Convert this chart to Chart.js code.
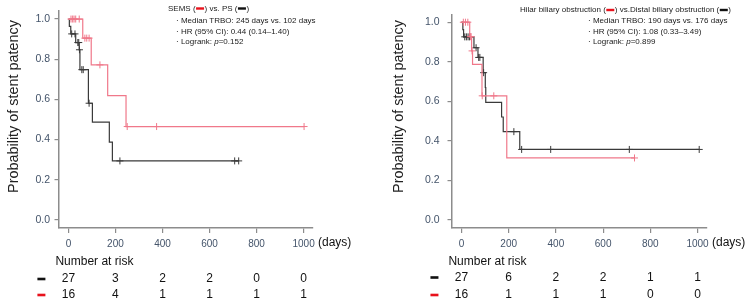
<!DOCTYPE html>
<html><head><meta charset="utf-8">
<script src="https://cdn.jsdelivr.net/npm/chart.js@4"></script>
<style>
html,body{margin:0;padding:0;background:#fff;}
#wrap{position:relative;width:751px;height:307px;overflow:hidden;background:#fff;}
canvas{position:absolute;top:0;}
</style></head><body>
<div id="wrap">
<canvas id="c1" width="380" height="307" style="left:0px"></canvas>
<canvas id="c2" width="371" height="307" style="left:380px"></canvas>
</div>
<script>
// ---------- shared ticks ----------
const xTicks = [0, 200, 400, 600, 800, 1000];
const yTicks = [0, 0.2, 0.4, 0.6, 0.8, 1.0];
const yTickLabels = ['0.0', '0.2', '0.4', '0.6', '0.8', '1.0'];

// ---------- left panel: SEMS (red) vs PS (black) ----------
const semsTime = [0, 61, 97, 167, 245, 1002];
const semsSurv = [1.0, 0.905, 0.772, 0.619, 0.465, 0.465];
const semsCensorTime = [11, 18, 24, 31, 46, 70, 78, 88, 134, 250, 375, 1002];
const semsCensorSurv = [1, 1, 1, 1, 1, 0.905, 0.905, 0.905, 0.772, 0.465, 0.465, 0.465];

const psTime = [0, 4, 10, 31, 46, 49, 85, 102, 174, 187, 724];
const psSurv = [1.0, 0.963, 0.926, 0.883, 0.847, 0.748, 0.581, 0.487, 0.387, 0.294, 0.294];
const psCensorTime = [14, 28, 40, 44, 47, 57, 63, 88, 219, 707, 724];
const psCensorSurv = [0.926, 0.926, 0.883, 0.883, 0.847, 0.748, 0.748, 0.581, 0.294, 0.294, 0.294];

const psRisk = [27, 3, 2, 2, 0, 0];
const semsRisk = [16, 4, 1, 1, 1, 1];

// ---------- right panel: Hilar (red) vs Distal (black) ----------
const hilarTime = [0, 35, 43, 47, 87, 192, 733];
const hilarSurv = [1.0, 0.927, 0.855, 0.787, 0.628, 0.314, 0.314];
const hilarCensorTime = [8, 17, 27, 38, 41, 45, 88, 137, 733];
const hilarCensorSurv = [1, 1, 1, 0.927, 0.927, 0.855, 0.628, 0.628, 0.314];

const distalTime = [0, 6, 9, 53, 70, 92, 101, 103, 170, 177, 247, 1007];
const distalSurv = [1.0, 0.963, 0.926, 0.871, 0.822, 0.745, 0.67, 0.595, 0.521, 0.447, 0.357, 0.357];
const distalCensorTime = [14, 21, 28, 34, 62, 73, 78, 94, 222, 255, 378, 711, 1007];
const distalCensorSurv = [0.926, 0.926, 0.926, 0.926, 0.871, 0.822, 0.822, 0.745, 0.447, 0.357, 0.357, 0.357, 0.357];

const distalRisk = [27, 6, 2, 2, 1, 1];
const hilarRisk = [16, 1, 1, 1, 0, 0];

// ---------- styles ----------
const RED_LINE = '#f0788a';
const BLACK_LINE = '#3a3a3a';
const RED_KEY = '#e8121c';
const BLACK_KEY = '#111111';
const AXIS = '#8c8c8c';
const TICKTXT = '#44546a';
const SANS = '"Liberation Sans", Arial, sans-serif';
const NARROW = '"Liberation Sans Narrow", "Arial Narrow", "Liberation Sans", Arial, sans-serif';

function pts(t, s) { return t.map((v, i) => ({ x: v, y: s[i] })); }

function stepDs(t, s, color) {
  return { type: 'line', data: pts(t, s), borderColor: color, borderWidth: 1.2,
    stepped: 'before', pointRadius: 0, fill: false, tension: 0 };
}
function censorDs(t, s, color) {
  return { type: 'line', data: pts(t, s), showLine: false, pointStyle: 'cross',
    pointRadius: 3.5, pointBorderWidth: 1, pointBorderColor: color,
    pointBackgroundColor: color, borderColor: color };
}

function drawParts(ctx, x, y, parts) {
  let cx = x;
  ctx.textBaseline = 'middle';
  ctx.textAlign = 'left';
  for (const p of parts) {
    if (p.dash) {
      ctx.fillStyle = p.dash;
      ctx.fillRect(cx + 0.5, y - 1.2, 8, 2.4);
      cx += 9;
      continue;
    }
    ctx.font = (p.i ? 'italic ' : '') + '8px ' + SANS;
    ctx.fillStyle = '#1a1a1a';
    ctx.fillText(p.t, cx, y);
    cx += ctx.measureText(p.t).width;
  }
}

function annPlugin(cfg) {
  return {
    id: 'ann_' + cfg.id,
    afterDraw(chart) {
      const ctx = chart.ctx, xs = chart.scales.x, ca = chart.chartArea;
      ctx.save();
      // y axis title
      ctx.save();
      ctx.translate(cfg.yTitleX, cfg.yTitleY);
      ctx.rotate(-Math.PI / 2);
      ctx.font = '14.4px ' + SANS;
      ctx.fillStyle = '#222';
      ctx.textAlign = 'center';
      ctx.textBaseline = 'middle';
      ctx.fillText('Probability of stent patency', 0, 0);
      ctx.restore();
      // (days)
      ctx.font = '12px ' + SANS;
      ctx.fillStyle = '#111';
      ctx.textAlign = 'left';
      ctx.textBaseline = 'middle';
      ctx.fillText('(days)', ca.right + 5, 243);
      // legend block
      drawParts(ctx, cfg.legX, cfg.legY, cfg.legTitle);
      cfg.legLines.forEach((ln, i) => {
        drawParts(ctx, cfg.bulX, cfg.bulY[i], [{ t: '· ' }].concat(ln));
      });
      // number at risk table
      const x0 = xs.getPixelForValue(0);
      ctx.font = '12px ' + SANS;
      ctx.fillStyle = '#111';
      ctx.textAlign = 'left';
      ctx.textBaseline = 'middle';
      ctx.fillText('Number at risk', x0 - 13, 261.5);
      const rows = [{ v: cfg.riskBlack, c: BLACK_KEY, y: cfg.rowY[0] },
                    { v: cfg.riskRed, c: RED_KEY, y: cfg.rowY[1] }];
      rows.forEach(r => {
        ctx.fillStyle = r.c;
        ctx.fillRect(x0 - 31, r.y - 1.3, 8, 2.6);
        ctx.fillStyle = '#111';
        ctx.font = '12px ' + NARROW;
        ctx.textAlign = 'center';
        r.v.forEach((n, i) => ctx.fillText(String(n), xs.getPixelForValue(xTicks[i]), r.y));
      });
      ctx.restore();
    }
  };
}

function makeChart(id, datasets, yWidth, pad, tickPad, cfg) {
  return new Chart(document.getElementById(id), {
    type: 'line',
    data: { datasets },
    options: {
      responsive: false, animation: false, devicePixelRatio: 1,
      layout: { padding: pad },
      plugins: { legend: { display: false }, tooltip: { enabled: false }, title: { display: false } },
      scales: {
        x: {
          type: 'linear', min: -40, max: 1040,
          afterBuildTicks: s => { s.ticks = xTicks.map(v => ({ value: v })); },
          afterFit: s => { s.height = 20; },
          grid: { drawOnChartArea: false, drawTicks: true, tickLength: 5, color: AXIS, lineWidth: 1.2 },
          border: { display: true, color: AXIS, width: 1.5 },
          ticks: { padding: 5, color: TICKTXT, font: { family: NARROW, size: 10 }, maxRotation: 0,
                   autoSkip: false, callback: v => String(v) }
        },
        y: {
          type: 'linear', min: -0.04, max: 1.04,
          afterBuildTicks: s => { s.ticks = yTicks.map(v => ({ value: v })); },
          afterFit: s => { s.width = yWidth; },
          grid: { drawOnChartArea: false, drawTicks: true, tickLength: 4.5, color: AXIS, lineWidth: 1.2 },
          border: { display: true, color: AXIS, width: 1.5 },
          ticks: { padding: tickPad, color: TICKTXT, font: { family: SANS, size: 10.5 }, autoSkip: false,
                   callback: (v, i) => yTickLabels[i] }
        }
      }
    },
    plugins: [annPlugin(cfg)]
  });
}

// left chart
makeChart('c1', [
  stepDs(semsTime, semsSurv, RED_LINE),
  censorDs(semsCensorTime, semsCensorSurv, RED_LINE),
  stepDs(psTime, psSurv, BLACK_LINE),
  censorDs(psCensorTime, psCensorSurv, BLACK_LINE)
], 59, { left: 0, top: 11, right: 67, bottom: 59 }, 4.5, {
  id: 'L', yTitleX: 14, yTitleY: 106.5,
  legX: 168, legY: 8.5,
  legTitle: [{ t: 'SEMS (' }, { dash: RED_KEY }, { t: ') vs. PS (' }, { dash: BLACK_KEY }, { t: ')' }],
  bulX: 176, bulY: [21, 31.5, 42],
  legLines: [[{ t: 'Median TRBO: 245 days vs. 102 days' }],
             [{ t: 'HR (95% CI): 0.44 (0.14\u20131.40)' }],
             [{ t: 'Logrank: ' }, { t: 'p', i: true }, { t: '=0.152' }]],
  riskBlack: psRisk, riskRed: semsRisk, rowY: [279, 295]
});

// right chart
makeChart('c2', [
  stepDs(hilarTime, hilarSurv, RED_LINE),
  censorDs(hilarCensorTime, hilarCensorSurv, RED_LINE),
  stepDs(distalTime, distalSurv, BLACK_LINE),
  censorDs(distalCensorTime, distalCensorSurv, BLACK_LINE)
], 72, { left: 0, top: 9, right: 44, bottom: 59 }, 8, {
  id: 'R', yTitleX: 19, yTitleY: 106.5,
  legX: 140, legY: 10,
  legTitle: [{ t: 'Hilar biliary obstruction (' }, { dash: RED_KEY }, { t: ') vs.Distal biliary obstruction (' }, { dash: BLACK_KEY }, { t: ')' }],
  bulX: 208, bulY: [21, 31.5, 42],
  legLines: [[{ t: 'Median TRBO: 190 days vs. 176 days' }],
             [{ t: 'HR (95% CI): 1.08 (0.33\u20133.49)' }],
             [{ t: 'Logrank: ' }, { t: 'p', i: true }, { t: '=0.899' }]],
  riskBlack: distalRisk, riskRed: hilarRisk, rowY: [277.5, 295]
});
</script>
</body></html>
